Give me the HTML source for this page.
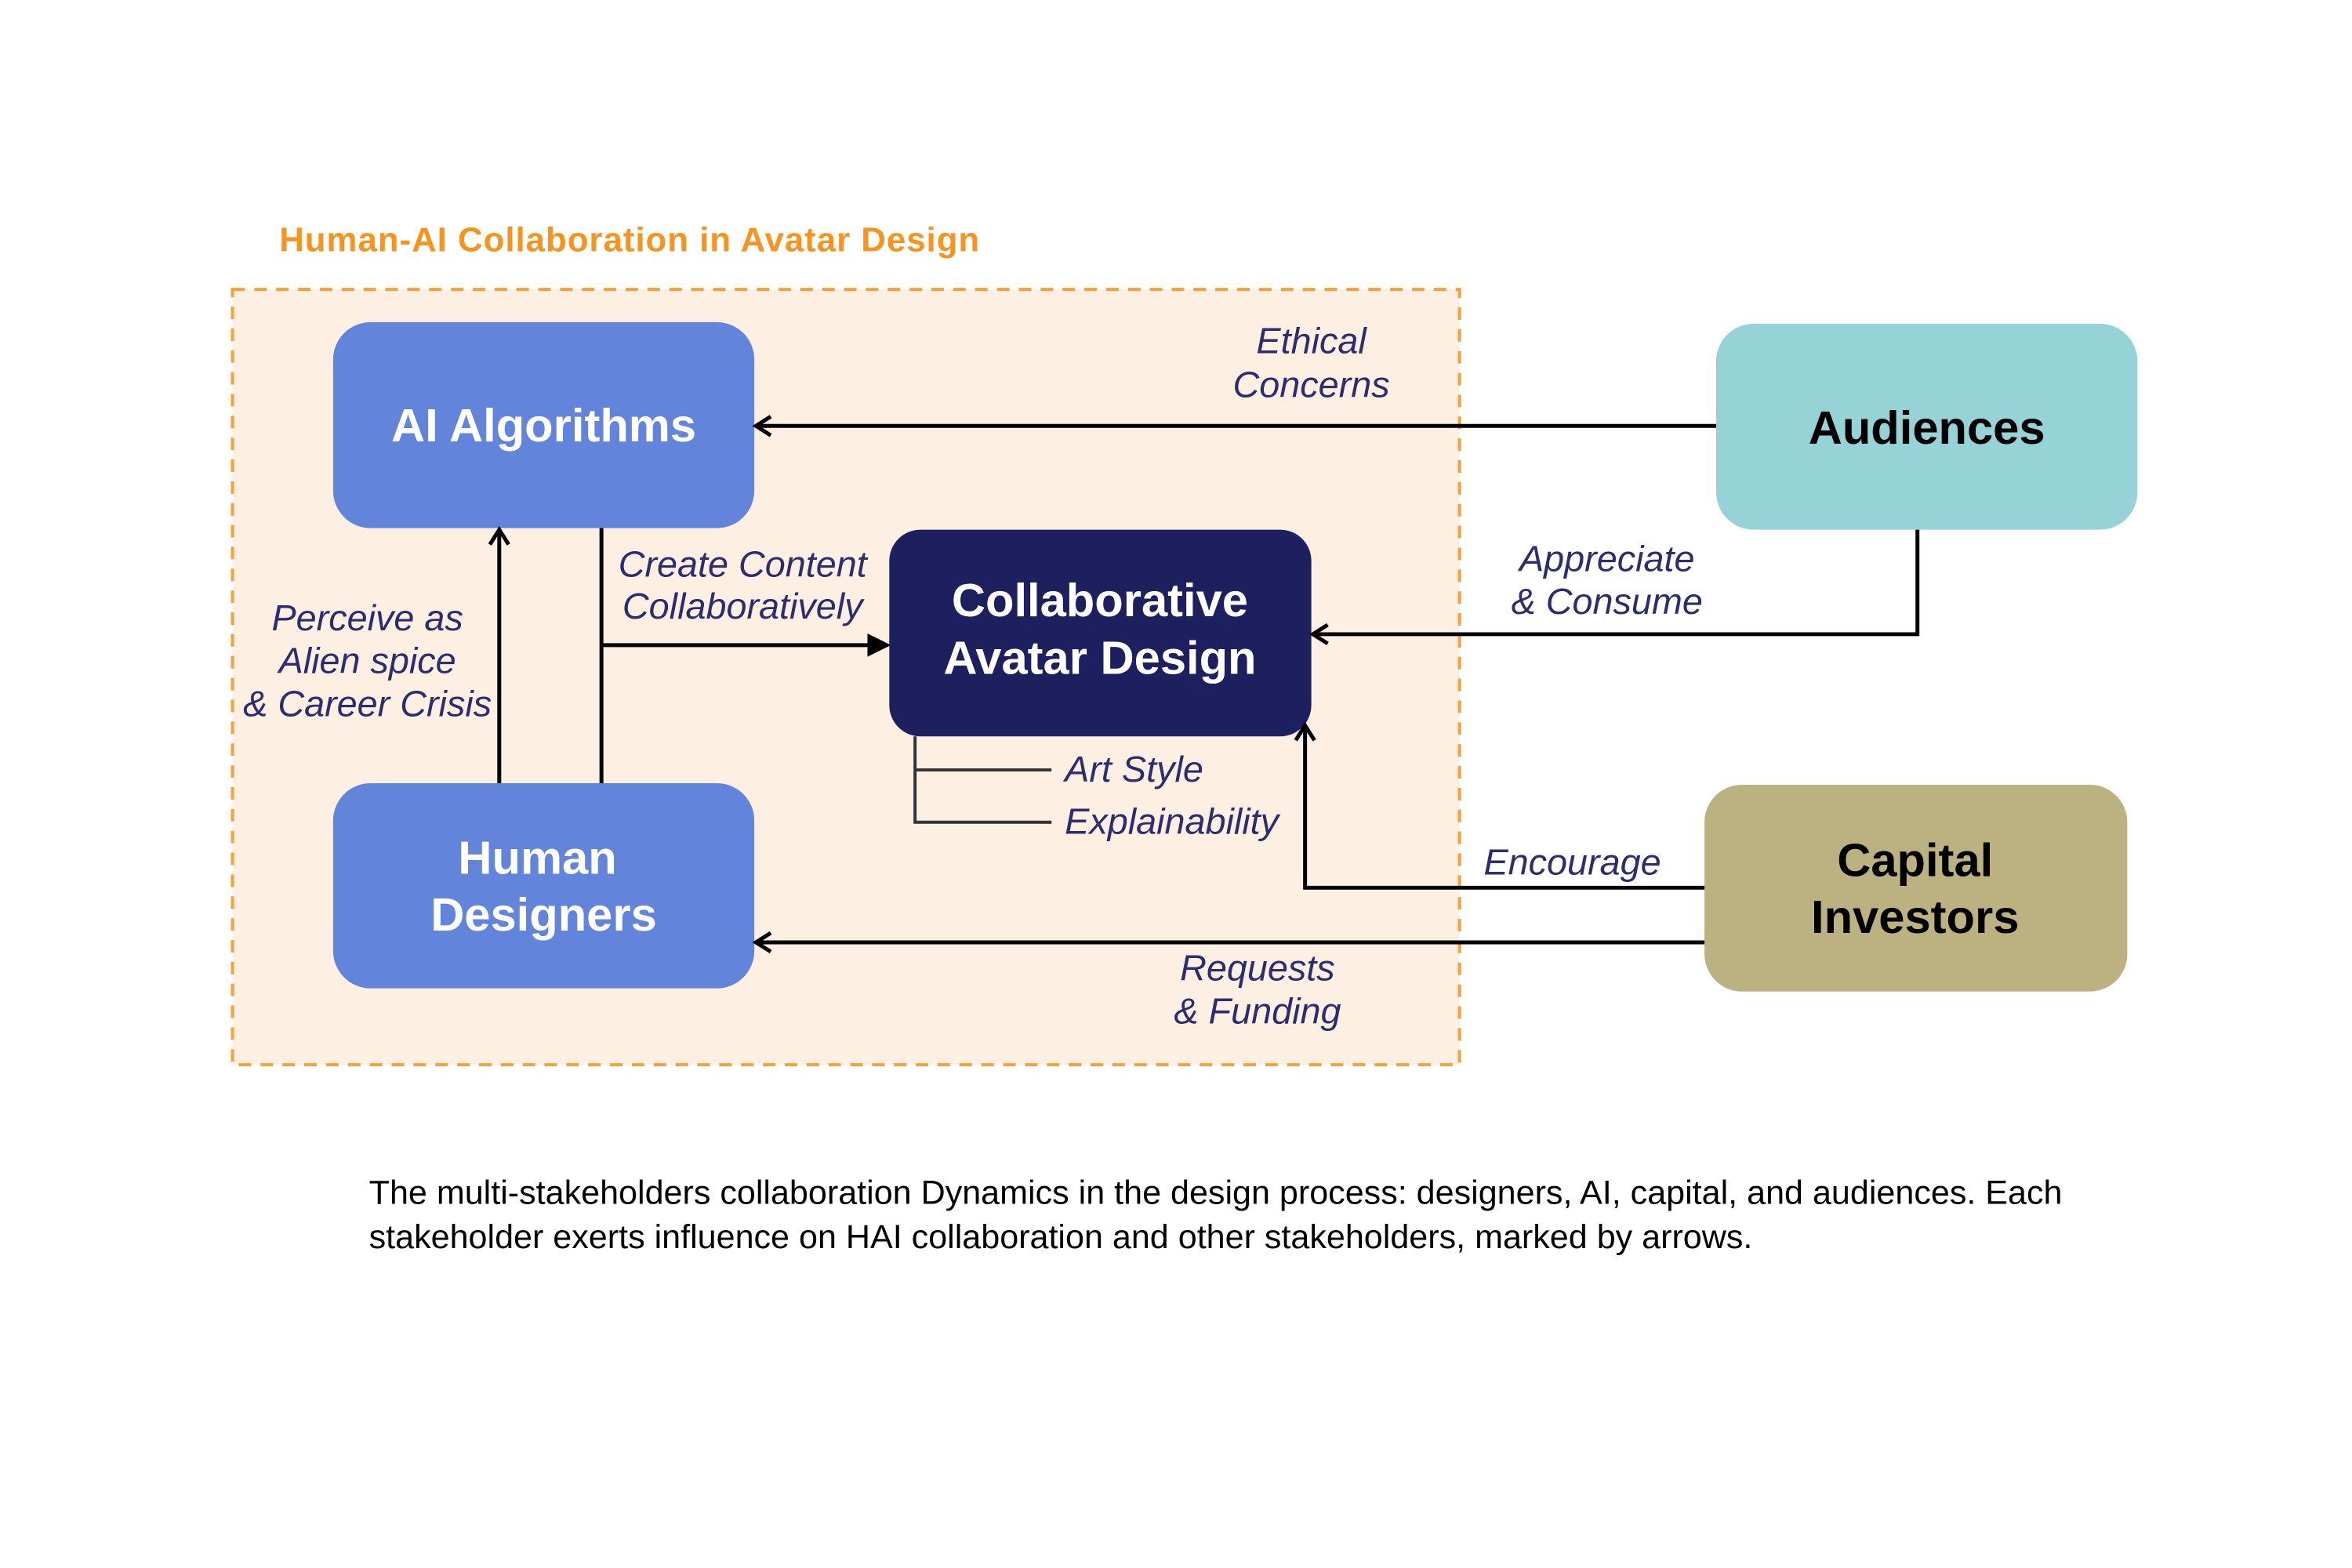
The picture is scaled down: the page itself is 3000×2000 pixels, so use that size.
<!DOCTYPE html>
<html><head><meta charset="utf-8"><style>
html,body{margin:0;padding:0;background:#fff;width:3000px;height:2000px;overflow:hidden}
</style></head><body>
<svg width="3000" height="2000" viewBox="0 0 3000 2000" xmlns="http://www.w3.org/2000/svg" font-family="Liberation Sans, Arial, sans-serif">
<defs>
<marker id="open" markerWidth="40" markerHeight="40" refX="27" refY="15" orient="auto" markerUnits="userSpaceOnUse">
<path d="M8,3 L27,15 L8,27" fill="none" stroke="#000" stroke-width="5"/>
</marker>
</defs>
<g transform="scale(0.995)">
<text x="358" y="322" font-size="44" font-weight="bold" fill="#f7931e" letter-spacing="1">Human-AI Collaboration in Avatar Design</text>
<rect x="298" y="371" width="1573" height="994" fill="#fdefe2" stroke="#f7a03a" stroke-width="4" stroke-dasharray="16,12"/>

<rect x="427" y="413" width="540" height="264" rx="48" fill="#6384db"/>
<rect x="427" y="1004" width="540" height="263" rx="48" fill="#6384db"/>
<rect x="1140" y="679" width="541" height="265" rx="40" fill="#1e1f5e"/>
<rect x="2200" y="415" width="540" height="264" rx="48" fill="#96d3d6"/>
<rect x="2185" y="1006" width="542" height="265" rx="48" fill="#bbb181"/>

<g stroke="#000" stroke-width="5" fill="none">
<line x1="2200" y1="546" x2="969" y2="546" marker-end="url(#open)"/>
<polyline points="2458,679 2458,813 1683,813" marker-end="url(#open)"/>
<polyline points="2185,1138 1673,1138 1673,930" marker-end="url(#open)"/>
<line x1="2185" y1="1208" x2="969" y2="1208" marker-end="url(#open)"/>
<line x1="640" y1="1004" x2="640" y2="679" marker-end="url(#open)"/>
<line x1="771" y1="677" x2="771" y2="1004"/>
<line x1="771" y1="827" x2="1115" y2="827"/>
</g>
<path d="M1112,812 L1142,827 L1112,842 Z" fill="#000"/>
<g stroke="#333" stroke-width="4" fill="none">
<polyline points="1173,944 1173,1054 1348,1054"/>
<line x1="1173" y1="987" x2="1348" y2="987"/>
</g>

<g font-weight="bold" font-size="60" text-anchor="middle">
<text x="697" y="566" fill="#fff">AI Algorithms</text>
<text x="689" y="1120" fill="#fff">Human</text>
<text x="697" y="1193" fill="#fff">Designers</text>
<text x="1410" y="790" fill="#fff">Collaborative</text>
<text x="1410" y="864" fill="#fff">Avatar Design</text>
<text x="2470" y="569" fill="#000">Audiences</text>
<text x="2455" y="1123" fill="#000">Capital</text>
<text x="2455" y="1196" fill="#000">Investors</text>
</g>

<g font-style="italic" font-size="47" fill="#2b2d6e" text-anchor="middle">
<text x="1681" y="453">Ethical</text>
<text x="1681" y="509">Concerns</text>
<text x="952" y="739">Create Content</text>
<text x="952" y="793">Collaboratively</text>
<text x="471" y="808">Perceive as</text>
<text x="471" y="863">Alien spice</text>
<text x="471" y="918">&amp; Career Crisis</text>
<text x="2060" y="732">Appreciate</text>
<text x="2060" y="787">&amp; Consume</text>
<text x="1612" y="1257">Requests</text>
<text x="1612" y="1312">&amp; Funding</text>
</g>
<g font-style="italic" font-size="47" fill="#2b2d6e">
<text x="1365" y="1002">Art Style</text>
<text x="1365" y="1069">Explainability</text>
<text x="1902" y="1121">Encourage</text>
</g>

<g font-size="43.3" fill="#000">
<text x="473" y="1543">The multi-stakeholders collaboration Dynamics in the design process: designers, AI, capital, and audiences. Each</text>
<text x="473" y="1600">stakeholder exerts influence on HAI collaboration and other stakeholders, marked by arrows.</text>
</g>
</g>
</svg>
</body></html>
